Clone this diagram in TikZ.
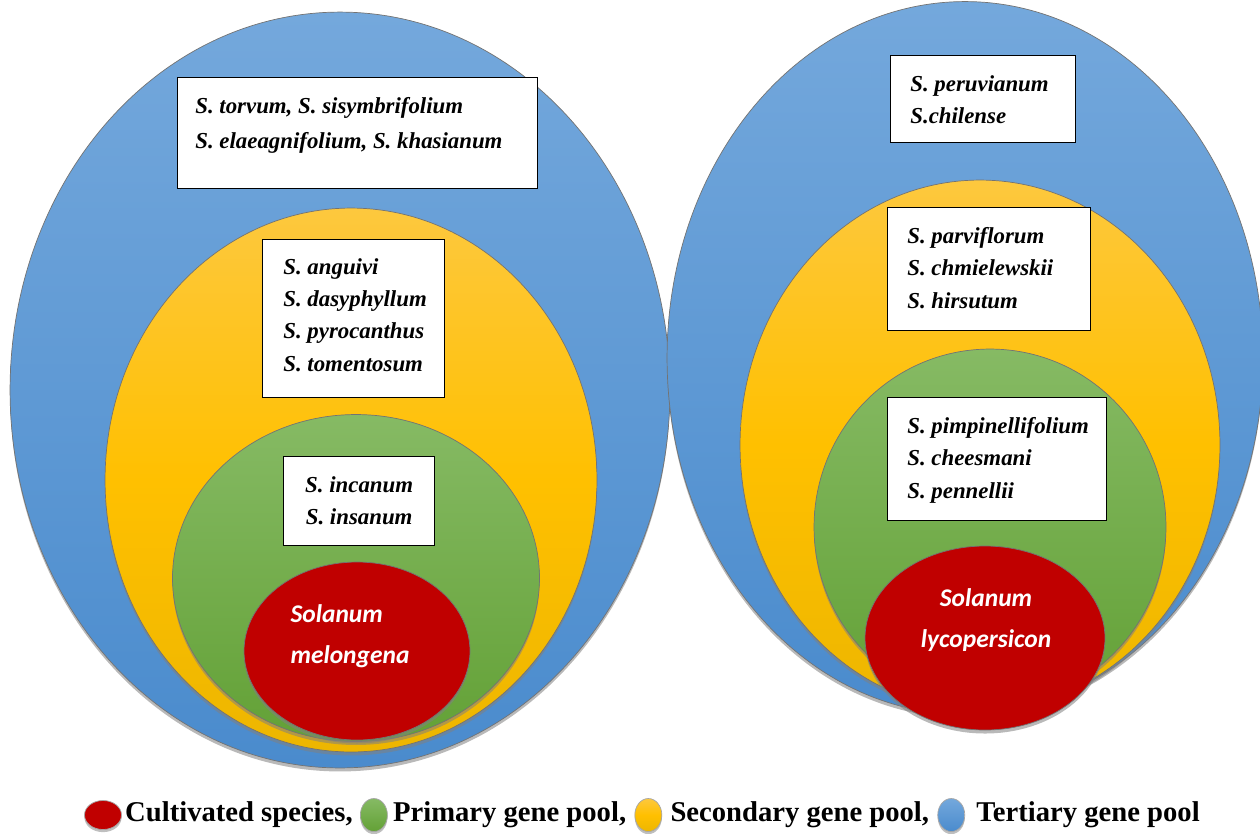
\documentclass[tikz,border=0pt]{standalone}
\usepackage{fontspec}
\setmainfont{Liberation Serif}
\newfontfamily\calfont{Carlito}
\usepackage{tikz}
\usetikzlibrary{positioning,shapes.geometric,shadows}

\definecolor{tertTop}{HTML}{74A8DC}
\definecolor{tertBot}{HTML}{4A8BCD}
\definecolor{secTop}{HTML}{FDC83E}
\definecolor{secMid}{HTML}{FFC000}
\definecolor{secBot}{HTML}{EDB600}
\definecolor{primTop}{HTML}{86BA64}
\definecolor{primBot}{HTML}{63A136}
\definecolor{cultRed}{HTML}{C00000}

\begin{document}
\begin{tikzpicture}[
x=0.02cm, y=-0.02cm,
pool/.style={ellipse, inner sep=0pt, draw=black!55, line width=0.4pt, drop shadow={shadow xshift=0pt, shadow yshift=-2pt, opacity=0.55}},
tertiary/.style={pool, top color=tertTop, bottom color=tertBot},
secondary/.style={pool, top color=secTop, bottom color=secBot, middle color=secMid},
primary/.style={pool, top color=primTop, bottom color=primBot},
cultivated/.style={pool, fill=cultRed},
namebox/.style={draw, line width=0.8pt, fill=white, anchor=north west, inner sep=0pt},
species/.style={anchor=north west, inner sep=0pt, align=left, font=\bfseries\itshape\fontsize{13}{18.4}\selectfont},
cropname/.style={text=white, inner sep=0pt, font=\calfont\bfseries\itshape\fontsize{14.5}{23}\selectfont},
legdot/.style={ellipse, inner sep=0pt, minimum width=0.54cm, minimum height=0.66cm, draw=black!35, drop shadow={shadow xshift=0pt, shadow yshift=-1.5pt, opacity=0.5}},
legtext/.style={inner sep=0pt, font=\bfseries\fontsize{16.3}{18}\selectfont}
]
\useasboundingbox[fill=white] (0,0) rectangle (1260,833);

\node[tertiary, minimum width=13.2cm, minimum height=15.12cm] (lterti) at (340,390) {};
\node[secondary, minimum width=9.84cm, minimum height=10.88cm] (lsecond) at (351,480) {};
\node[primary, minimum width=7.34cm, minimum height=6.54cm] (lprim) at (356,578) {};
\node[cultivated, minimum width=4.52cm, minimum height=3.56cm] (lcult) at (357,651) {};

\node[tertiary, minimum width=11.92cm, minimum height=14.26cm] (rterti) at (965,358) {};
\node[secondary, minimum width=9.6cm, minimum height=10.6cm] (rsecond) at (980,445) {};
\node[primary, minimum width=7.04cm, minimum height=7.12cm] (rprim) at (990,527) {};
\node[cultivated, minimum width=4.8cm, minimum height=3.68cm] (rcult) at (985,638) {};

\node[cropname, align=left] (lcultname) at (350,636) {Solanum\\melongena};
\node[cropname, align=center] (rcultname) at (986,620) {Solanum\\lycopersicon};

\node[namebox, minimum width=7.2cm, minimum height=2.22cm] (ltertbox) at (177,77) {};
\node[species] (lterttext) at ([shift={(18,20)}]ltertbox.north west) {S. torvum, S. sisymbrifolium\\[1.5pt]S. elaeagnifolium, S. khasianum};
\node[namebox, minimum width=3.64cm, minimum height=3.16cm] (lsecbox) at (262,239) {};
\node[species] (lsectext) at ([shift={(21,19)}]lsecbox.north west) {S. anguivi\\S. dasyphyllum\\S. pyrocanthus\\S. tomentosum};
\node[namebox, minimum width=3.02cm, minimum height=1.78cm] (lprimbox) at (283,456) {};
\node[species, anchor=north, align=center] (lprimtext) at ([shift={(0,20)}]lprimbox.north) {S. incanum\\S. insanum};

\node[namebox, minimum width=3.7cm, minimum height=1.74cm] (rtertbox) at (890,55) {};
\node[species] (rterttext) at ([shift={(20,20)}]rtertbox.north west) {S. peruvianum\\S.chilense};
\node[namebox, minimum width=4.06cm, minimum height=2.46cm] (rsecbox) at (887,207) {};
\node[species] (rsectext) at ([shift={(20,20)}]rsecbox.north west) {S. parviflorum\\S. chmielewskii\\S. hirsutum};
\node[namebox, minimum width=4.38cm, minimum height=2.46cm] (rprimbox) at (887,397) {};
\node[species] (rprimtext) at ([shift={(20,20)}]rprimbox.north west) {S. pimpinellifolium\\S. cheesmani\\S. pennellii};

\node[legdot, fill=cultRed, minimum width=0.74cm, minimum height=0.58cm] (kcult) at (103,815) {};
\node[legtext, right=0.06cm of kcult] (tcult) {Cultivated species,};
\node[legdot, top color=primTop, bottom color=primBot, right=0.14cm of tcult] (kprim) {};
\node[legtext, right=0.1cm of kprim] (tprim) {Primary gene pool,};
\node[legdot, top color=secTop, bottom color=secBot, middle color=secMid, right=0.16cm of tprim] (ksec) {};
\node[legtext, right=0.16cm of ksec] (tsec) {Secondary gene pool,};
\node[legdot, top color=tertTop, bottom color=tertBot, right=0.16cm of tsec] (kterti) {};
\node[legtext, right=0.22cm of kterti] (tterti) {Tertiary gene pool};
\end{tikzpicture}
\end{document}
